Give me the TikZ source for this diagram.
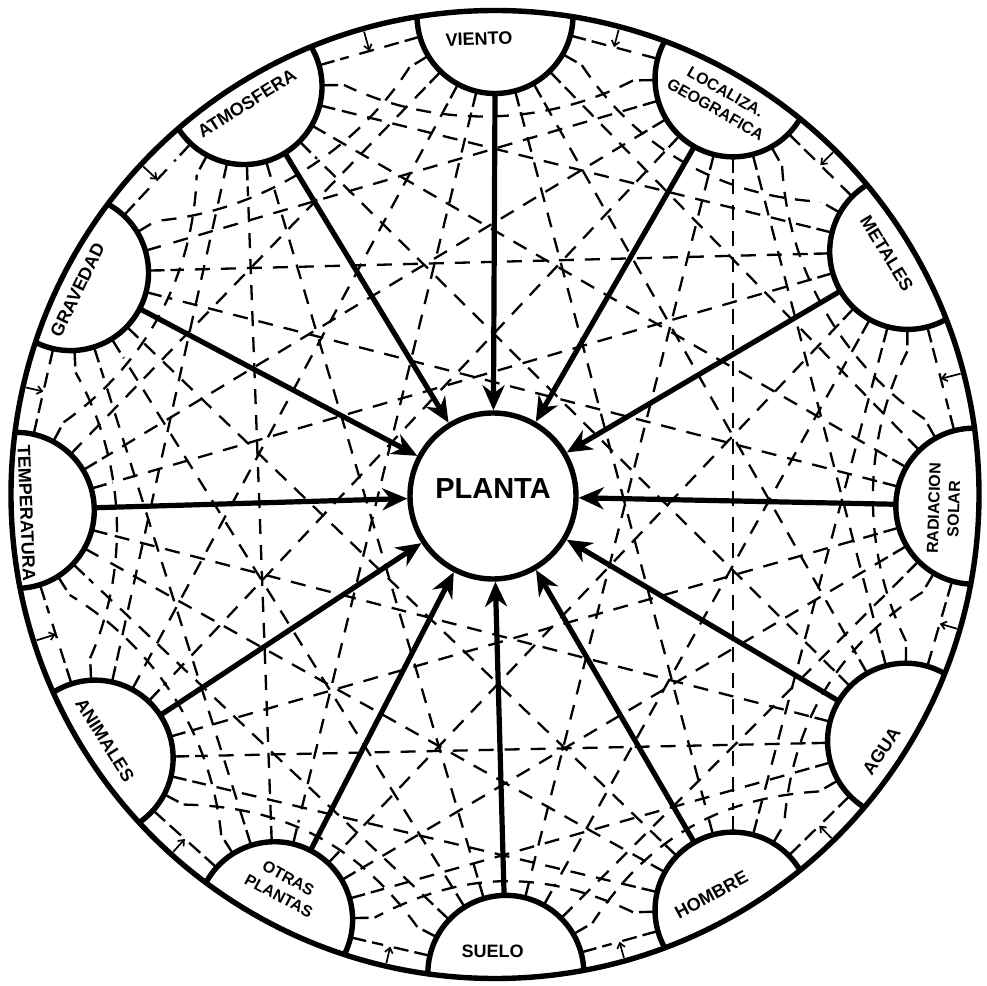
\documentclass[tikz,border=0pt]{standalone}
\usepackage{fontspec}
\setmainfont{Liberation Sans}
\usetikzlibrary{calc,arrows.meta}
\begin{document}
\begin{tikzpicture}[x=1pt,y=1pt,
  heavy/.style={line width=5.4pt},
  stubline/.style={line width=2.4pt},
  dashline/.style={line width=2.3pt, dash pattern=on 15pt off 11pt},
  mainarrow/.style={line width=5.2pt, -{Stealth[length=25pt,width=22pt,inset=8pt]}},
  smallarrow/.style={line width=1.7pt, -{Straight Barb[length=5pt,width=8pt]}},
  lbl/.style={font=\fontsize{18}{22}\selectfont\bfseries, align=center, inner sep=0pt},
  lblsmall/.style={font=\fontsize{16}{20}\selectfont\bfseries, align=center, inner sep=0pt}]
\fill[white] (0,0) rectangle (987,985);
\useasboundingbox (0,0) rectangle (987,985);
\def\angs{{90,60.2,30.5,-1.4,-31,-60.2,-88.7,-117.4,-146.6,181.9,152.4,121.6}}
\coordinate (C) at (495,490.5);
\foreach \i in {0,...,11}{
  \pgfmathsetmacro{\tha}{\angs[\i]}
  \coordinate (P\i) at ($(C)+(\tha:479)$);
  \coordinate (S\i) at ($(C)+(\tha:401)$);
}
% dashed network between the semicircles
\foreach \i in {0,...,10}{
  \pgfmathtruncatemacro{\ip}{\i+1}
  \foreach \j in {\ip,...,11}{
    \pgfmathtruncatemacro{\m}{\j-\i}
    \ifnum\m=6\relax\else
      \draw[stubline] ($(P\i)!78pt!(P\j)$) -- ($(P\i)!94pt!(P\j)$);
      \draw[stubline] ($(P\j)!78pt!(P\i)$) -- ($(P\j)!94pt!(P\i)$);
      \ifnum\m=2 \def\ri{-90}\def\rj{90}\else
        \ifnum\m=10 \def\ri{90}\def\rj{-90}\else \def\ri{0}\def\rj{0}\fi\fi
      \ifdim\ri pt=0pt
        \draw[dashline] ($(P\i)!100pt!(P\j)$) -- ($(P\j)!100pt!(P\i)$);
      \else
        \draw[dashline] ($(P\i)!100pt!(P\j)$) .. controls ($(P\i)!190pt!(P\j)!45pt!\ri:(P\j)$) and ($(P\j)!190pt!(P\i)!45pt!\rj:(P\i)$) .. ($(P\j)!100pt!(P\i)$);
      \fi
    \fi
  }
}
% semicircles
\foreach \i in {0,...,11}{
  \pgfmathsetmacro{\tha}{\angs[\i]}
  \pgfmathsetmacro{\sa}{\tha+90}
  \pgfmathsetmacro{\ea}{\tha+270}
  \fill[white] ($(P\i)+(\sa:78)$) arc[start angle=\sa, end angle=\ea, radius=78] -- cycle;
  \draw[heavy] ($(P\i)+(\sa:78)$) arc[start angle=\sa, end angle=\ea, radius=78];
}
% small arrows between neighbours
\foreach \k in {0,...,11}{
  \pgfmathtruncatemacro{\kn}{mod(\k+1,12)}
  \coordinate (M\k) at ($(P\k)!0.5!(P\kn)$);
  \coordinate (O\k) at ($(C)!481pt!(M\k)$);
  \draw[smallarrow] (O\k) -- (M\k);
}
\draw[heavy] (C) circle[radius=484];
% centre
\node[circle, draw, line width=5.4pt, minimum size=166pt, inner sep=0pt, fill=white] (planta) at (493,489) {};
\node[font=\fontsize{29}{32}\selectfont\bfseries] (plantatext) at (493,496) {PLANTA};
\foreach \i in {0,...,11}{
  \draw[mainarrow] (S\i) -- (planta);
}
% labels
\foreach \i/\labang/\rr/\sty/\txt in {0/92/456/lbl/VIENTO, 1/60.2/454/lblsmall/{LOCALIZA.\\GEOGRAFICA}, 2/31.6/460/lbl/METALES, 3/-1.8/449/lblsmall/{RADIACION\\SOLAR}, 4/-33.6/464/lbl/AGUA, 5/-61.6/455/lbl/HOMBRE, 6/-90.3/457/lbl/SUELO, 7/-118.3/446/lblsmall/{OTRAS\\PLANTAS}, 8/212.2/461/lbl/ANIMALES, 9/182.3/469/lbl/TEMPERATURA, 10/153.9/465/lbl/GRAVEDAD, 11/122.4/463/lbl/ATMOSFERA}{
  \pgfmathsetmacro{\rot}{ifthenelse(and(\labang>0,\labang<180),\labang-90,\labang+90)}
  \node[\sty, rotate=\rot] (L\i) at ($(C)+(\labang:\rr)$) {\txt};
}
\end{tikzpicture}
\end{document}
